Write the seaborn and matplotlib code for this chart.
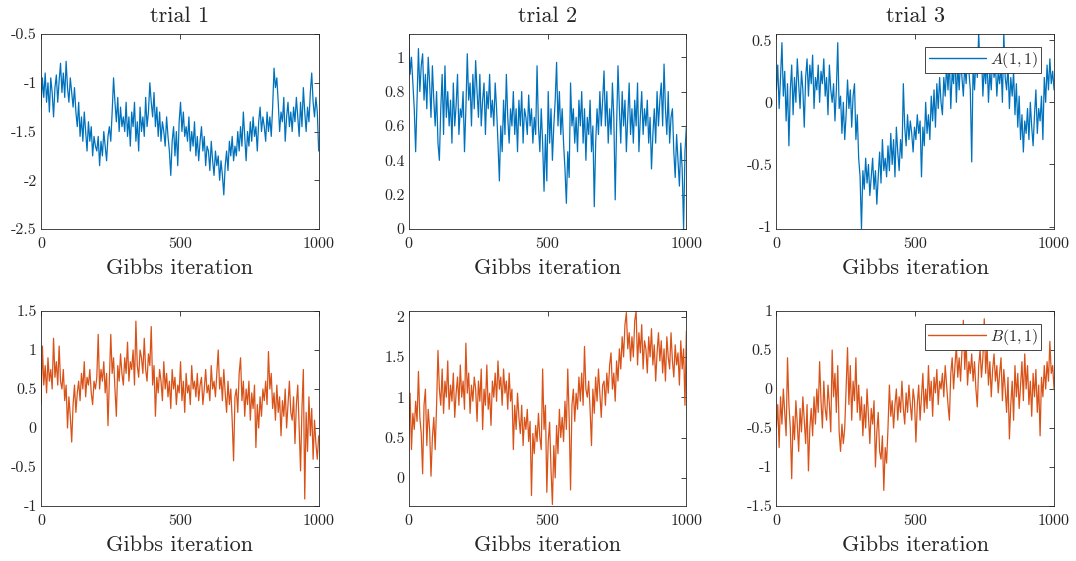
import numpy as np
import pandas as pd
import matplotlib
matplotlib.use("Agg")
import matplotlib.pyplot as plt
import seaborn as sns
from matplotlib.ticker import FixedLocator, FuncFormatter

# ---------------- data (every 5th Gibbs iteration) ----------------
titles = ["trial 1", "trial 2", "trial 3"]
xlabel_text = "Gibbs iteration"
legend_labels = ["$A(1,1)$", "$B(1,1)$"]

A_trial1 = [
    -1.25, -0.95, -1.15, -0.9, -1.2, -1.0, -1.3, -0.95, -1.1, -1.35, -1.05, -0.92, -1.2, -0.98, -0.8, -1.1, -0.9, -1.15, -0.78, -1.05,
    -1.2, -0.95, -1.1, -1.25, -1.05, -1.3, -1.45, -1.2, -1.55, -1.35, -1.6, -1.3, -1.5, -1.7, -1.4, -1.6, -1.45, -1.75, -1.55, -1.65,
    -1.7, -1.55, -1.85, -1.6, -1.75, -1.5, -1.65, -1.8, -1.55, -1.45, -1.6, -1.3, -0.95, -1.2, -1.4, -1.15, -1.5, -1.25, -1.45, -1.35,
    -1.5, -1.2, -1.55, -1.35, -1.65, -1.3, -1.45, -1.2, -1.6, -1.4, -1.7, -1.25, -1.5, -1.35, -1.55, -1.15, -1.45, -1.3, -1.0, -1.2,
    -1.35, -1.1, -1.45, -1.25, -1.55, -1.3, -1.6, -1.4, -1.5, -1.65, -1.35, -1.55, -1.7, -1.95, -1.6, -1.45, -1.75, -1.5, -1.85, -1.4,
    -1.2, -1.5, -1.3, -1.55, -1.45, -1.6, -1.35, -1.7, -1.5, -1.65, -1.4, -1.75, -1.55, -1.8, -1.6, -1.45, -1.7, -1.55, -1.85, -1.65,
    -1.7, -1.9, -1.6, -1.8, -1.95, -1.7, -1.85, -1.75, -2.0, -1.8, -1.95, -2.15, -1.85, -1.7, -1.9, -1.6, -1.75, -1.55, -1.8, -1.65,
    -1.75, -1.5, -1.7, -1.45, -1.65, -1.3, -1.55, -1.8, -1.5, -1.65, -1.4, -1.6, -1.35, -1.55, -1.45, -1.7, -1.4, -1.25, -1.5, -1.35,
    -1.45, -1.6, -1.3, -1.5, -1.35, -1.55, -1.25, -0.85, -1.05, -0.95, -1.2, -1.5, -1.3, -1.4, -1.15, -1.6, -1.35, -1.2, -1.45, -1.3,
    -1.5, -1.25, -1.4, -1.15, -1.35, -1.55, -1.2, -1.45, -1.05, -1.3, -1.5, -1.25, -1.4, -1.1, -0.9, -1.2, -1.35, -1.15, -1.3, -1.7,
]
A_trial2 = [
    1.13, 0.9, 1.0, 0.85, 0.7, 0.45, 0.75, 1.05, 0.8, 0.95, 1.02, 0.75, 0.9, 0.7, 1.0, 0.85, 0.65, 0.95, 0.75, 0.6,
    0.8, 0.5, 0.4, 0.7, 0.9, 0.55, 0.95, 0.65, 0.8, 0.6, 0.75, 0.5, 0.85, 0.6, 0.72, 0.9, 0.55, 0.7, 0.65, 0.8,
    0.45, 0.7, 1.02, 0.75, 0.85, 0.6, 0.9, 0.7, 0.98, 0.8, 0.65, 0.9, 0.6, 0.75, 0.85, 0.55, 0.8, 0.7, 0.9, 0.65,
    0.75, 0.6, 0.85, 0.7, 0.5, 0.28, 0.6, 0.45, 0.75, 0.55, 0.9, 0.65, 0.5, 0.7, 0.6, 0.8, 0.55, 0.7, 0.45, 0.75,
    0.6, 0.8, 0.5, 0.7, 0.65, 0.55, 0.78, 0.6, 0.7, 0.5, 0.65, 0.55, 0.95, 0.6, 0.45, 0.7, 0.5, 0.22, 0.55, 0.28,
    0.8, 0.5, 0.7, 0.4, 0.6, 0.75, 0.97, 0.6, 0.8, 0.55, 0.7, 0.5, 0.35, 0.15, 0.45, 0.3, 0.85, 0.6, 0.7, 0.5,
    0.65, 0.45, 0.75, 0.6, 0.8, 0.5, 0.7, 0.4, 0.65, 0.55, 0.75, 0.45, 0.6, 0.13, 0.5, 0.7, 0.55, 0.8, 0.6, 0.75,
    0.92, 0.6, 0.8, 0.5, 0.7, 0.55, 0.85, 0.65, 0.17, 0.6, 0.95, 0.7, 0.5, 0.8, 0.6, 0.75, 0.45, 0.65, 0.85, 0.55,
    0.7, 0.5, 0.75, 0.6, 0.85, 0.45, 0.65, 0.8, 0.55, 0.7, 0.6, 0.75, 0.5, 0.65, 0.35, 0.55, 0.7, 0.5, 0.8, 0.6,
    0.75, 0.85, 0.6, 0.96, 0.7, 0.55, 0.8, 0.5, 0.65, 0.7, 0.45, 0.3, 0.55, 0.4, 0.25, 0.5, 0.35, 0.0, 0.45, 0.6,
]
A_trial3 = [
    0.1, 0.3, -0.05, 0.2, 0.48, 0.05, 0.25, -0.15, 0.15, -0.35, 0.1, 0.3, -0.1, 0.2, 0.0, 0.35, 0.15, -0.05, 0.25, 0.1,
    -0.2, 0.2, 0.35, 0.05, 0.3, 0.15, 0.38, -0.05, 0.2, 0.1, 0.3, 0.0, 0.25, 0.15, 0.35, 0.05, 0.2, -0.1, 0.3, 0.1,
    0.0, 0.15, -0.15, 0.1, 0.48, -0.05, 0.05, -0.25, 0.0, -0.3, -0.1, 0.18, -0.05, 0.1, -0.2, 0.05, 0.15, -0.3, -0.1, -0.45,
    -0.6, -1.02, -0.55, -0.7, -0.45, -0.65, -0.5, -0.75, -0.6, -0.45, -0.7, -0.55, -0.82, -0.6, -0.4, -0.65, -0.3, -0.55, -0.45, -0.6,
    -0.35, -0.55, -0.25, -0.5, -0.3, -0.6, -0.2, -0.4, -0.55, -0.3, -0.45, 0.15, -0.2, -0.35, -0.1, -0.3, -0.15, -0.25, -0.4, -0.2,
    -0.3, -0.1, -0.25, -0.15, -0.6, -0.2, -0.35, 0.0, -0.25, -0.1, -0.3, 0.05, -0.15, 0.1, -0.2, 0.15, -0.05, 0.2, 0.0, -0.1,
    0.2, 0.05, 0.3, 0.1, 0.35, -0.05, 0.25, 0.15, 0.4, 0.0, 0.3, 0.1, 0.35, 0.2, 0.05, 0.3, 0.15, 0.4, 0.25, 0.1,
    -0.48, 0.3, 0.1, 0.35, 0.2, 0.56, 0.25, 0.4, 0.05, 0.3, 0.15, 0.35, 0.0, 0.25, 0.1, 0.4, 0.2, 0.3, 0.05, 0.25,
    0.15, 0.3, 0.0, 0.56, 0.2, 0.1, 0.3, -0.05, 0.2, 0.05, 0.25, -0.1, 0.15, -0.2, 0.05, -0.3, -0.1, -0.4, -0.15, -0.25,
    -0.05, -0.3, 0.0, -0.2, -0.35, -0.1, 0.1, -0.25, -0.05, -0.15, 0.05, -0.3, 0.2, 0.0, 0.3, 0.1, 0.35, 0.15, 0.25, 0.1,
]
B_trial1 = [
    0.3, 1.05, 0.55, 0.8, 0.45, 0.9, 0.6, 0.75, 0.5, 1.15, 0.65, 0.85, 0.55, 1.05, 0.6, 0.5, 0.75, 0.35, 0.55, 0.0,
    0.4, 0.15, -0.18, 0.3, 0.55, 0.2, 0.45, 0.6, 0.35, 0.7, 0.5, 0.85, 0.4, 0.65, 0.55, 0.75, 0.45, 0.3, 0.6, 0.5,
    0.65, 1.2, 0.5, 0.75, 0.6, 0.85, 0.45, 0.7, 0.03, 0.6, 1.2, 0.7, 0.9, 0.5, 0.15, 0.8, 0.6, 0.95, 0.7, 0.55,
    0.9, 0.7, 1.1, 0.6, 0.85, 0.75, 1.0, 0.55, 1.37, 0.8, 0.65, 1.0, 0.9, 0.7, 1.15, 0.75, 0.6, 0.95, 0.8, 1.3,
    0.55, 0.8, 0.15, 0.65, 0.45, 0.75, 0.6, 0.35, 0.85, 0.5, 0.7, 0.4, 0.6, 0.25, 0.75, 0.5, 0.65, 0.3, 0.55, 0.45,
    0.85, 0.35, 0.6, 0.2, 0.7, 0.45, 0.55, 0.3, 0.8, 0.5, 0.6, 0.4, 0.7, 0.35, 0.55, 0.65, 0.3, 0.5, 0.75, 0.45,
    0.55, 0.35, 0.8, 0.5, 0.6, 0.4, 0.7, 1.0, 0.5, 0.65, 0.35, 0.75, 0.45, 0.2, 0.6, 0.3, 0.5, 0.1, -0.42, 0.4,
    0.5, 0.2, 0.7, 0.9, 0.35, 0.6, 0.15, 0.5, 0.3, 0.6, 0.1, 0.45, 0.25, 0.55, -0.25, 0.3, 0.0, 0.4, 0.15, 0.5,
    0.35, 0.6, 0.3, 0.98, 0.5, 0.7, 0.25, 0.45, 0.1, 0.55, 0.2, 0.4, -0.1, 0.35, 0.15, 0.5, 0.0, 0.3, 0.6, 0.2,
    0.1, 0.4, -0.2, 0.3, 0.55, 0.0, -0.55, 0.25, 0.75, -0.91, 0.2, -0.3, 0.4, -0.1, 0.25, -0.4, 0.1, -0.2, -0.4, -0.1,
]
B_trial2 = [
    0.5, 1.05, 0.35, 0.8, 0.6, 0.95, 0.7, 1.32, 0.75, 0.55, 0.05, 0.9, 1.1, 0.4, 0.85, 0.6, 0.02, 0.5, 0.75, 0.35,
    0.9, 1.58, 1.1, 0.9, 1.35, 0.8, 1.2, 1.0, 1.45, 0.85, 1.15, 0.95, 1.3, 0.75, 1.05, 1.25, 0.9, 1.4, 1.0, 1.2,
    0.85, 1.67, 1.05, 1.3, 0.8, 1.15, 0.95, 1.25, 1.1, 0.7, 1.2, 0.95, 1.35, 0.6, 1.1, 0.9, 1.4, 0.85, 1.05, 0.65,
    1.2, 1.0, 1.3, 0.95, 1.45, 1.1, 1.25, 0.9, 1.35, 1.05, 1.2, 0.85, 1.3, 0.95, 1.1, 0.35, 0.9, 0.6, 1.05, 0.75,
    0.55, 0.9, 0.4, 0.75, 0.6, 0.85, 0.45, 0.7, -0.22, 0.55, 0.3, 0.65, 0.45, 0.8, 0.5, 0.35, 1.35, 0.6, 0.9, -0.18,
    0.45, 0.69, 0.1, -0.33, 0.4, 0.0, 0.65, 0.3, 0.85, 0.5, 0.75, 0.45, 0.95, 0.6, 1.35, 0.75, -0.15, 0.9, 1.1, 0.7,
    1.05, 0.85, 1.25, 0.95, 1.3, 0.9, 1.63, 1.1, 1.0, 1.2, 0.85, 0.4, 1.1, 0.8, 1.25, 0.95, 1.35, 1.05, 0.75, 1.15,
    1.2, 0.9, 1.3, 1.05, 1.4, 1.55, 1.1, 1.3, 0.95, 1.45, 1.2, 1.6, 1.35, 1.75, 1.5, 1.9, 2.05, 1.6, 1.8, 1.45,
    1.75, 1.5, 1.95, 2.07, 1.4, 1.8, 1.55, 1.9, 1.35, 1.7, 1.6, 1.3, 1.75, 1.5, 1.85, 1.4, 1.65, 1.2, 1.55, 1.8,
    1.45, 1.7, 1.3, 1.6, 1.2, 1.75, 1.5, 1.35, 1.8, 1.45, 1.25, 1.65, 1.4, 1.55, 1.15, 1.7, 1.35, 1.6, 0.9, 1.82,
]
B_trial3 = [
    -0.5, -0.2, -0.75, -0.1, -0.45, 0.0, -0.3, -0.6, 0.4, -0.2, -0.5, -1.15, -0.35, -0.65, -0.15, -0.45, -0.8, -0.25, -0.55, -0.1,
    -0.4, -0.7, -0.2, -1.05, -0.5, -0.25, -0.6, -0.1, -0.45, 0.0, -0.3, 0.35, -0.15, -0.5, 0.1, -0.25, -0.4, 0.05, -0.2, -0.55,
    0.5, -0.1, 0.2, -0.3, 0.3, -0.55, -0.8, -0.45, -0.7, -0.5, 0.0, 0.53, -0.2, 0.3, -0.4, 0.1, -0.15, 0.4, -0.3, 0.05,
    -0.4, -0.1, -0.6, -0.2, -0.5, 0.0, -0.35, -0.7, -0.25, -0.45, -0.15, -1.0, -0.55, -0.3, -0.8, -0.9, -0.6, -1.3, -0.75, -0.95,
    -0.5, 0.05, -0.35, -0.15, -0.5, -0.2, 0.0, -0.4, -0.1, -0.3, 0.1, -0.25, -0.45, -0.05, -0.3, 0.05, -0.2, -0.4, 0.0, -0.15,
    -0.68, -0.2, 0.05, -0.4, -0.1, 0.2, -0.3, 0.0, -0.25, 0.3, -0.15, 0.1, -0.35, 0.15, -0.05, 0.25, -0.2, 0.1, 0.0, 0.2,
    -0.1, 0.3, 0.05, -0.2, -0.4, 0.2, 0.4, 0.0, 0.3, 0.55, 0.15, 0.4, 0.1, 0.5, 0.88, 0.25, 0.6, 0.05, 0.35, 0.2,
    0.45, 0.1, 0.35, 0.0, -0.23, 0.3, 0.5, 0.15, 0.4, 0.9, 0.2, 0.55, 0.05, 0.35, -0.1, 0.25, 0.45, 0.1, 0.3, -0.05,
    0.2, 0.4, -0.15, 0.25, 0.0, -0.3, 0.15, -0.64, -0.2, 0.1, -0.4, 0.3, -0.1, 0.2, -0.25, 0.05, 0.35, -0.15, 0.45, 0.0,
    0.3, -0.2, 0.1, -0.35, 0.2, -0.1, 0.25, -0.3, 0.05, -0.6, 0.15, -0.1, 0.3, 0.0, 0.35, 0.1, 0.61, 0.2, 0.3, 0.0,
]

A_series = [A_trial1, A_trial2, A_trial3]
B_series = [B_trial1, B_trial2, B_trial3]
xticks = [0, 500, 1000]
A_ylims = [(-2.5, -0.5), (0.0, 1.135), (-1.02, 0.55)]
A_yticks = [[-2.5, -2, -1.5, -1, -0.5], [0, 0.2, 0.4, 0.6, 0.8, 1], [-1, -0.5, 0, 0.5]]
B_ylims = [(-1.0, 1.5), (-0.35, 2.07), (-1.5, 1.0)]
B_yticks = [[-1, -0.5, 0, 0.5, 1, 1.5], [0, 0.5, 1, 1.5, 2], [-1.5, -1, -0.5, 0, 0.5, 1]]

# ---------------- style ----------------
sns.set_theme(style="white")
axis_col = "#262626"
plt.rcParams.update({
    "font.family": ["cmr10", "DejaVu Serif"],
    "mathtext.fontset": "cm",
    "axes.unicode_minus": False,
    "axes.formatter.use_mathtext": True,
    "axes.edgecolor": axis_col,
    "axes.linewidth": 0.6,
    "xtick.color": axis_col,
    "ytick.color": axis_col,
    "xtick.direction": "in",
    "ytick.direction": "in",
    "xtick.major.size": 3.5,
    "ytick.major.size": 3.5,
    "xtick.major.width": 0.6,
    "ytick.major.width": 0.6,
    "xtick.top": True,
    "ytick.right": True,
    "xtick.labelsize": 11.5,
    "ytick.labelsize": 11.5,
    "axes.titlesize": 16,
    "axes.labelsize": 16,
})

blue = "#0072BD"
orange = "#D95319"

fig, axes = plt.subplots(2, 3, figsize=(10.76, 5.61), dpi=100)
fig.subplots_adjust(left=0.0381, right=0.9796, top=0.9394, bottom=0.098,
                    wspace=0.324, hspace=0.42)

fmt = FuncFormatter(lambda v, p: f"{v:g}")

def draw(ax, vals, color, ylim, yticks, label=None):
    n = len(vals)
    it = np.linspace(0, 1000, n)
    df = pd.DataFrame({"iteration": it, "value": vals})
    sns.lineplot(data=df, x="iteration", y="value", ax=ax, color=color,
                 linewidth=0.9, estimator=None, sort=False,
                 label=label, legend=bool(label))
    ax.set_xlim(0, 1000)
    ax.set_ylim(*ylim)
    ax.xaxis.set_major_locator(FixedLocator(xticks))
    ax.yaxis.set_major_locator(FixedLocator(yticks))
    ax.xaxis.set_major_formatter(fmt)
    ax.yaxis.set_major_formatter(fmt)
    ax.set_xlabel(xlabel_text, labelpad=5)
    ax.set_ylabel("")
    ax.tick_params(axis="x", which="major", pad=6)
    ax.tick_params(axis="y", which="major", pad=3)
    for s in ax.spines.values():
        s.set_visible(True)
        s.set_color(axis_col)
    if label:
        leg = ax.legend(loc="upper right", frameon=True, fancybox=False,
                        framealpha=1, edgecolor="#262626", fontsize=11.5,
                        handlelength=3.6, borderaxespad=0.8, borderpad=0.2,
                        handletextpad=0.25)
        leg.get_frame().set_linewidth(0.6)
        for h in leg.legend_handles:
            h.set_color(color)
            h.set_linewidth(1.0)

for j in range(3):
    draw(axes[0, j], A_series[j], blue, A_ylims[j], A_yticks[j],
         label=legend_labels[0] if j == 2 else None)
    axes[0, j].set_title(titles[j], pad=8.5)
    draw(axes[1, j], B_series[j], orange, B_ylims[j], B_yticks[j],
         label=legend_labels[1] if j == 2 else None)

fig.savefig("out.png", dpi=100)
